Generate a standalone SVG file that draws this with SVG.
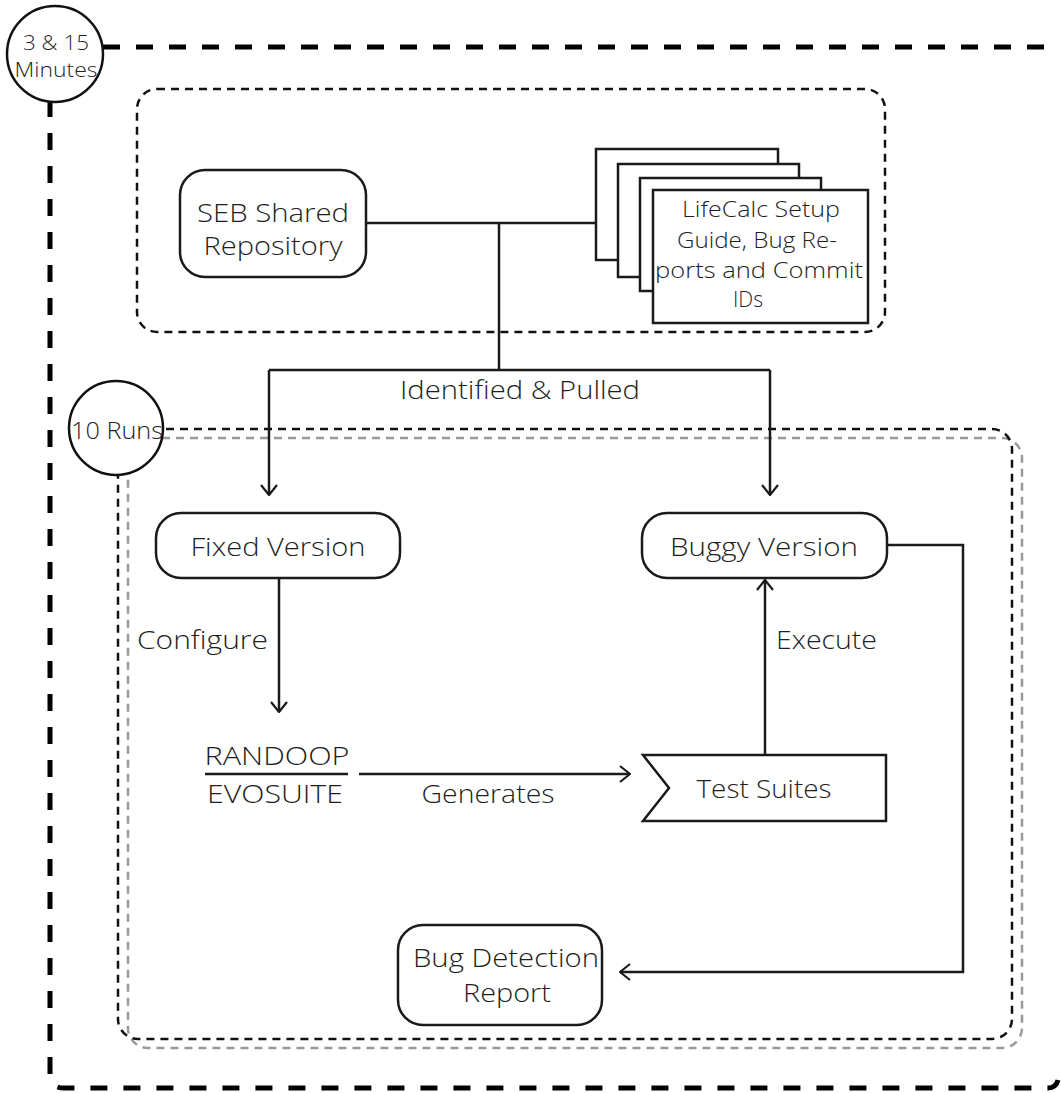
<svg xmlns="http://www.w3.org/2000/svg" width="1061" height="1093" viewBox="0 0 1061 1093">
<defs>
<style>
.t{font-family:"Open Sans","Noto Sans","Liberation Sans",sans-serif;font-weight:300;fill:#1e1e1e;}
.m{text-anchor:middle;}
.box{fill:#fff;stroke:#1a1a1a;stroke-width:2.5;}
.ln{fill:none;stroke:#1a1a1a;stroke-width:2.5;}
.arr{marker-end:url(#ah);}
.outer{fill:none;stroke:#000;stroke-width:5;stroke-dasharray:17 16;}
.grp{fill:none;stroke:#111;stroke-width:2.5;stroke-dasharray:8 6;}
.grpg{fill:none;stroke:#999;stroke-width:2.5;stroke-dasharray:8 6;}
.circ{fill:#fff;stroke:#111;stroke-width:2.5;}
</style>
<marker id="ah" markerUnits="userSpaceOnUse" viewBox="0 0 12 18" markerWidth="12" markerHeight="18" refX="11" refY="9" orient="auto">
<path d="M1,1 L11,9 L1,17" fill="none" stroke="#1a1a1a" stroke-width="2.2"/>
</marker>
</defs>
<rect width="1061" height="1093" fill="#fff"/>

<g id="frame-outer">
<path class="outer" d="M50,100 V1074 Q50,1088 64,1088 H1048 Q1056,1088 1058,1080"/>
<path class="outer" d="M103,47 H1046 Q1054,47 1057,54"/>
</g>
<g id="group-repository">
<rect class="grp" x="137" y="89" width="748" height="243" rx="20"/>
</g>
<g id="group-runs">
<rect class="grpg" x="128" y="438" width="894" height="610" rx="20"/>
<rect class="grp" x="118" y="429" width="894" height="610" rx="20"/>
</g>

<g id="connectors">
<path class="ln" d="M366,223 H596"/>
<path class="ln" d="M499,223 V370"/>
<path class="ln" d="M269,370 H770"/>
<path class="ln arr" d="M269,370 V495"/>
<path class="ln arr" d="M770,370 V495"/>
<path class="ln arr" d="M279,578 V712"/>
<path class="ln arr" d="M359,774 H630"/>
<path class="ln arr" d="M765,755 V580"/>
<path class="ln arr" d="M887,545 H963 V972 H620"/>
<text class="t m" x="520" y="399" font-size="25" textLength="240" lengthAdjust="spacingAndGlyphs">Identified &amp; Pulled</text>
<text class="t" x="137" y="649" font-size="25" textLength="131" lengthAdjust="spacingAndGlyphs">Configure</text>
<text class="t" x="776" y="649" font-size="25" textLength="101" lengthAdjust="spacingAndGlyphs">Execute</text>
<text class="t m" x="488" y="803" font-size="25" textLength="133" lengthAdjust="spacingAndGlyphs">Generates</text>
</g>

<g id="timer-circle">
<circle class="circ" cx="55" cy="54" r="48"/>
<text class="t m" x="56" y="50" font-size="21" textLength="66" lengthAdjust="spacingAndGlyphs">3 &amp; 15</text>
<text class="t m" x="56" y="77" font-size="21" textLength="83" lengthAdjust="spacingAndGlyphs">Minutes</text>
</g>

<g id="runs-circle">
<circle class="circ" cx="116" cy="428" r="47"/>
<text class="t m" x="117" y="439" font-size="24" textLength="92" lengthAdjust="spacingAndGlyphs">10 Runs</text>
</g>

<g id="seb-repository">
<rect class="box" x="180" y="170" width="186" height="107" rx="25"/>
<text class="t m" x="273" y="222" font-size="26" textLength="152" lengthAdjust="spacingAndGlyphs">SEB Shared</text>
<text class="t m" x="273" y="255" font-size="26" textLength="139" lengthAdjust="spacingAndGlyphs">Repository</text>
</g>

<g id="documents">
<rect class="box" x="596" y="149" width="182" height="111"/>
<rect class="box" x="618" y="164" width="181" height="113"/>
<rect class="box" x="640" y="178" width="181" height="113"/>
<rect class="box" x="653" y="190" width="215" height="133"/>
<text class="t m" x="761" y="217" font-size="22" textLength="158" lengthAdjust="spacingAndGlyphs">LifeCalc Setup</text>
<text class="t m" x="757" y="248" font-size="22" textLength="160" lengthAdjust="spacingAndGlyphs">Guide, Bug Re-</text>
<text class="t m" x="759" y="278" font-size="22" textLength="208" lengthAdjust="spacingAndGlyphs">ports and Commit</text>
<text class="t m" x="748" y="307" font-size="22" textLength="30" lengthAdjust="spacingAndGlyphs">IDs</text>
</g>

<g id="fixed-version">
<rect class="box" x="156" y="513" width="244" height="65" rx="25"/>
<text class="t m" x="278" y="556" font-size="26" textLength="175" lengthAdjust="spacingAndGlyphs">Fixed Version</text>
</g>

<g id="buggy-version">
<rect class="box" x="642" y="513" width="245" height="65" rx="25"/>
<text class="t m" x="764" y="556" font-size="26" textLength="188" lengthAdjust="spacingAndGlyphs">Buggy Version</text>
</g>

<g id="tools">
<text class="t m" x="277" y="765" font-size="25" textLength="145" lengthAdjust="spacingAndGlyphs">RANDOOP</text>
<path class="ln" d="M205,774 H348"/>
<text class="t m" x="275" y="803" font-size="25" textLength="136" lengthAdjust="spacingAndGlyphs">EVOSUITE</text>
</g>

<g id="test-suites">
<polygon class="box" points="643,755 886,755 886,821 643,821 669,788"/>
<text class="t m" x="764" y="798" font-size="25" textLength="135" lengthAdjust="spacingAndGlyphs">Test Suites</text>
</g>

<g id="bug-report">
<rect class="box" x="398" y="925" width="204" height="100" rx="25"/>
<text class="t m" x="506" y="967" font-size="25" textLength="186" lengthAdjust="spacingAndGlyphs">Bug Detection</text>
<text class="t m" x="507" y="1002" font-size="25" textLength="88" lengthAdjust="spacingAndGlyphs">Report</text>
</g>
</svg>
